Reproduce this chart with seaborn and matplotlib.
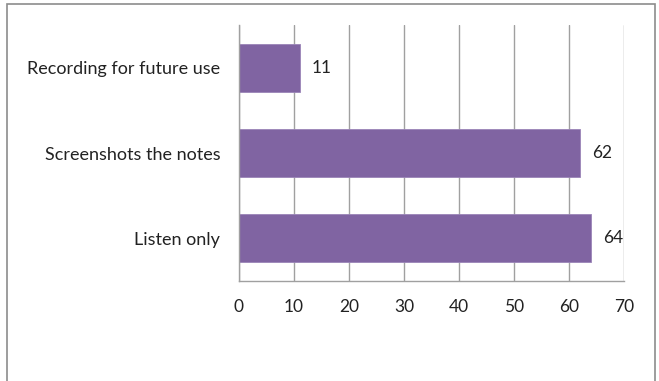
import matplotlib
matplotlib.use("Agg")
import matplotlib.pyplot as plt
import matplotlib.patches as mpatches
import seaborn as sns
import pandas as pd

categories = ["Recording for future use", "Screenshots the notes", "Listen only"]
values = [11, 62, 64]
xticks = [0, 10, 20, 30, 40, 50, 60, 70]

sns.set_theme(style="white")
plt.rcParams["font.family"] = ["Lato", "DejaVu Sans"]

df = pd.DataFrame({"category": categories, "value": values})

fig = plt.figure(figsize=(6.59, 3.81), dpi=100)
ax = fig.add_axes([239 / 659, 1 - 281 / 381, (624 - 239) / 659, (281 - 25) / 381])

sns.barplot(data=df, x="value", y="category", orient="h", color="#8064A2",
            saturation=1, width=0.56, edgecolor="#9a84b8", linewidth=0.6, ax=ax)

ax.set_xlim(0, 70)
ax.set_xticks(xticks)
ax.set_xticklabels([str(t) for t in xticks], fontsize=12.5, color="#222222")
ax.tick_params(axis="y", labelsize=13, colors="#222222", length=0, pad=13.5)
ax.tick_params(axis="x", length=0, pad=13)
for lbl in ax.get_yticklabels():
    lbl.set_fontstretch("expanded")
ax.set_xlabel("")
ax.set_ylabel("")

ax.xaxis.grid(True, color="#a0a0a0", linewidth=1)
ax.set_axisbelow(True)
for side in ["top", "right"]:
    ax.spines[side].set_visible(False)
for side in ["left", "bottom"]:
    ax.spines[side].set_color("#a0a0a0")
    ax.spines[side].set_linewidth(1)

for i, v in enumerate(values):
    ax.annotate(str(v), xy=(v, i), xytext=(9, 0), textcoords="offset points",
                va="center", ha="left", fontsize=12.5, color="#222222")

# chart frame
fig.patches.append(mpatches.Rectangle((7 / 659, -0.05), (655 - 7) / 659, 1 - 4 / 381 + 0.05,
                                      transform=fig.transFigure, fill=False,
                                      edgecolor="#8c8c8c", linewidth=1.2))

fig.savefig("out.png", dpi=100)
